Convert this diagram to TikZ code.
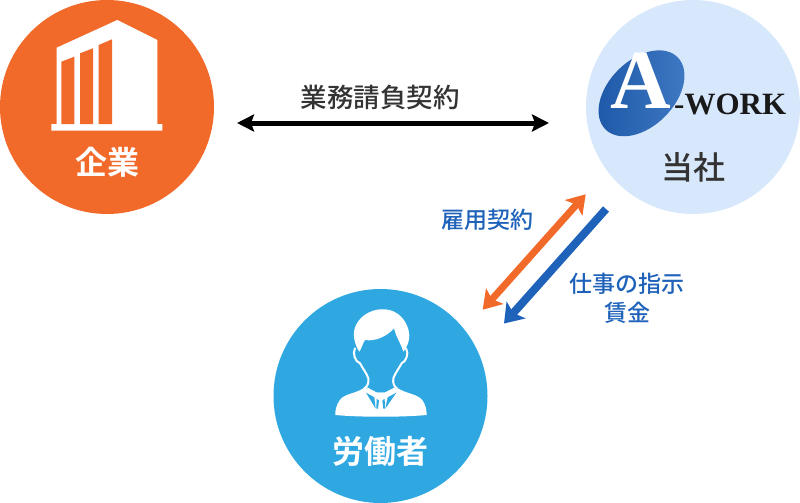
\documentclass[tikz,border=0pt]{standalone}
\usepackage{fontspec}
\usetikzlibrary{arrows.meta}
\setmainfont{Noto Sans CJK JP Medium}
\newfontfamily\jpb{Noto Sans CJK JP Bold}
\newfontfamily\logoserif{Liberation Serif}
\definecolor{corg}{HTML}{F26A2A}
\definecolor{clight}{HTML}{D8E8FC}
\definecolor{csky}{HTML}{2FA8E2}
\definecolor{cblue}{HTML}{1F62BA}
\definecolor{cdark}{HTML}{333333}
\tikzset{
  disc/.style={circle,minimum size=214pt,inner sep=0pt,draw=none},
  bigwhite/.style={text=white,font=\jpb\fontsize{32}{32}\selectfont,inner sep=0pt},
  blue label/.style={text=cblue,font=\fontsize{23}{29}\selectfont,inner sep=0pt,align=center},
  dark label/.style={text=cdark,inner sep=0pt},
  icon/.style={fill=white,draw=none},
}
\begin{document}
\begin{tikzpicture}[x=1pt,y=-1pt]
\useasboundingbox (0,0) rectangle (800,503);
% discs
\node[disc,fill=corg]   (firm)   at (107,107) {};
\node[disc,fill=clight] (self)   at (693,107) {};
\node[disc,fill=csky]   (worker) at (380.5,396) {};
% building
\fill[icon] (56.7,47.7) -- (117.3,20) -- (157.3,40) -- (157.3,124) -- (162.3,124) -- (162.3,130.7) -- (51.3,130.7) -- (51.3,124) -- (56.7,124) -- cycle;
\fill[corg] (61.3,61.7) -- (74.3,56.7) -- (74.3,124) -- (61.3,124) -- cycle;
\fill[corg] (80,53.3) -- (93,48.3) -- (93,124) -- (80,124) -- cycle;
\fill[corg] (98.7,45) -- (112,39.3) -- (112,124) -- (98.7,124) -- cycle;
\node[bigwhite] (firmlabel) at (107,162.5) {企業};
% logo
\shade[rotate around={45:(641.5,93.3)},left color=cblue!90!black,right color=cblue!85!white,draw=none]
  (641.5,93.3) ellipse [x radius=51,y radius=33];
\node[inner sep=0pt,text=white,font=\logoserif\bfseries\fontsize{84}{84}\selectfont] (logoA) at (640.5,81) {A};
\node[inner sep=0pt,text=black!90,font=\logoserif\bfseries\fontsize{31}{31}\selectfont,anchor=west] (logoW) at (674,104) {-WORK};
\node[dark label,font=\fontsize{32}{32}\selectfont] (selflabel) at (693,167) {当社};
% person
\begin{scope}[shift={(320,300)},x=0.3333pt,y=-0.3333pt]
  \fill[icon] (118,155) .. controls (104,135) and (95,100) .. (108,75) .. controls (125,40) and (165,25) .. (195,28)
    .. controls (235,30) and (265,65) .. (268,105) .. controls (268,125) and (262,140) .. (250,155)
    .. controls (245,135) and (230,115) .. (222,85) .. controls (200,110) and (165,125) .. (135,120) .. controls (128,130) and (125,145) .. (118,155) -- cycle;
  \draw[white,line width=2pt,line cap=round] (105,145) .. controls (97,160) and (105,185) .. (120,190)
    .. controls (128,205) and (140,220) .. (145,235) .. controls (147,250) and (142,260) .. (132,266);
  \draw[white,line width=2pt,line cap=round] (258,145) .. controls (268,160) and (258,185) .. (245,190)
    .. controls (237,205) and (225,220) .. (220,235) .. controls (218,250) and (222,260) .. (232,266);
  \fill[icon] (132,264) .. controls (105,282) and (72,280) .. (58,302) .. controls (48,318) and (45,335) .. (46,345)
    .. controls (120,352) and (245,352) .. (320,345) .. controls (320,330) and (317,315) .. (308,302) .. controls (295,282) and (260,282) .. (232,264)
    -- (195,278) -- (170,278) -- cycle;
  \fill[csky] (138,278) -- (163,292) -- (167,326) -- cycle;
  \fill[csky] (229,278) -- (203,292) -- (196,326) -- cycle;
  \draw[white,line width=1.6pt] (140,264) -- (170,280) -- (195,280) -- (226,264);
  \fill[csky] (170,296) -- (177,302) -- (174,326) -- (169,326) -- cycle;
  \fill[csky] (194,296) -- (187,302) -- (190,326) -- (195,326) -- cycle;
\end{scope}
\node[bigwhite] (workerlabel) at (380.5,451) {労働者};
% labels
\node[dark label,font=\fontsize{26.5}{26.5}\selectfont] (contract) at (380,97) {業務請負契約};
\node[blue label] (employ) at (487,220) {雇用契約};
\node[blue label] (instr) at (627,298.5) {仕事の指示\\賃金};
% arrow ends
\coordinate (a1) at (237,123);
\coordinate (a2) at (549,123);
\coordinate (b1) at (585.7,194.3);
\coordinate (b2) at (482.7,309.7);
\coordinate (c1) at (606,209);
\coordinate (c2) at (504,323.5);
\draw[black,line width=5pt,{Stealth[length=17pt,width=17pt,inset=3pt]}-{Stealth[length=17pt,width=17pt,inset=3pt]}] (a1) -- (a2);
\draw[corg,line width=7pt,{Stealth[length=18pt,width=23pt,inset=4pt]}-{Stealth[length=18pt,width=23pt,inset=4pt]}] (b1) -- (b2);
\draw[cblue,line width=8pt,-{Stealth[length=18pt,width=25pt,inset=4pt]}] (c1) -- (c2);
\end{tikzpicture}
\end{document}
